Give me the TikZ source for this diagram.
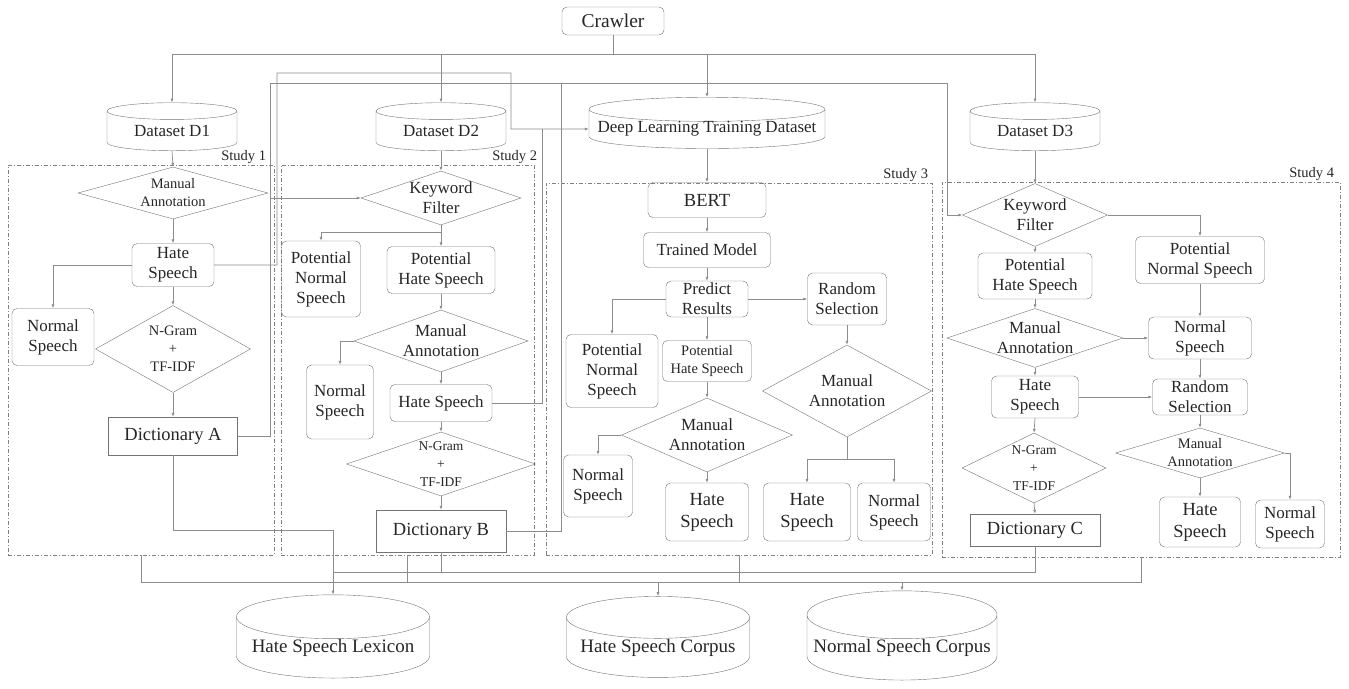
\documentclass[tikz,border=0pt]{standalone}
\usepackage{fontspec}
\setmainfont{Liberation Serif}
\usetikzlibrary{shapes.geometric,arrows.meta}

\tikzset{
  wh/.style 2 args={minimum width=#1, minimum height=#2},
  box/.style={draw=black!55, rectangle, rounded corners=5pt, align=center, inner sep=1pt, text=black!85, font=\fontsize{17}{20}\selectfont},
  dictbox/.style={draw=black!55, rectangle, align=center, inner sep=1pt, text=black!85, font=\fontsize{18.5}{22}\selectfont},
  choice/.style={draw=black!55, diamond, inner sep=0pt},
  choicetext/.style={align=center, inner sep=0pt, text=black!85, font=\fontsize{17}{20}\selectfont},
  store/.style={draw=black!55, cylinder, shape border rotate=90, align=center, inner sep=0pt, text=black!85, font=\fontsize{17}{20}\selectfont},
  study/.style={draw=black!50, dash pattern=on 4pt off 2pt on 1pt off 2pt, rectangle, inner sep=0pt},
  studyname/.style={anchor=south east, inner sep=1pt, text=black!85, font=\fontsize{14.5}{17}\selectfont},
  smalltext/.style={font=\fontsize{14.5}{18}\selectfont},
  tinytext/.style={font=\fontsize{13.5}{18}\selectfont},
  bigtext/.style={font=\fontsize{18.5}{22}\selectfont},
  link/.style={draw=black!45, line width=0.7pt},
  >={Latex[length=4pt,width=3pt]}
}

\begin{document}
\begin{tikzpicture}[x=1pt,y=-1pt]
\useasboundingbox (0,0) rectangle (1349,688);

% sources
\node[box, wh={102}{28}, font=\fontsize{19.5}{22}\selectfont] (crawler) at (613,21) {Crawler};
\node[store, wh={130}{48}, aspect=0.22] (d1) at (172,131) {Dataset D1};
\node[store, wh={130}{48}, aspect=0.22] (d2) at (441,131) {Dataset D2};
\node[store, wh={236}{45}, aspect=0.11] (dl) at (707,129) {Deep Learning Training Dataset};
\node[store, wh={130}{48}, aspect=0.22] (d3) at (1035,131) {Dataset D3};

% study frames
\node[study, wh={266}{390}] (st1) at (141,360) {};
\node[study, wh={253}{390}] (st2) at (407.5,360) {};
\node[study, wh={386}{372}] (st3) at (739,369) {};
\node[study, wh={398}{375}] (st4) at (1141,369.5) {};
\node[studyname] (st1-l) at ([xshift=-7]st1.north east) {Study 1};
\node[studyname] (st2-l) at ([xshift=4]st2.north east) {Study 2};
\node[studyname] (st3-l) at ([xshift=-3]st3.north east) {Study 3};
\node[studyname] (st4-l) at ([xshift=-5]st4.north east) {Study 4};

% study 1
\node[choice, wh={190}{52}] (s1ma) at (173,193) {};
\node[choicetext, smalltext] (s1ma-t) at (s1ma) {Manual\\Annotation};
\node[box, wh={82}{43}] (s1hs) at (173,265) {Hate\\Speech};
\node[box, wh={82}{57}] (s1ns) at (53,337) {Normal\\Speech};
\node[choice, wh={155}{87}] (s1ng) at (173,349) {};
\node[choicetext, smalltext] (s1ng-t) at (s1ng) {N-Gram\\+\\TF-IDF};
\node[dictbox, wh={129}{38}] (dicta) at (173,436) {Dictionary A};

% study 2
\node[choice, wh={160}{54}] (s2kf) at (441,198) {};
\node[choicetext] (s2kf-t) at (s2kf) {Keyword\\Filter};
\node[box, wh={79}{76}] (s2pns) at (321,279) {Potential\\Normal\\Speech};
\node[box, wh={108}{47}] (s2phs) at (441,270) {Potential\\Hate Speech};
\node[choice, wh={174}{62}] (s2ma) at (441,341) {};
\node[choicetext] (s2ma-t) at (s2ma) {Manual\\Annotation};
\node[box, wh={67}{74}] (s2ns) at (340,402) {Normal\\Speech};
\node[box, wh={102}{37}] (s2hs) at (441,403) {Hate Speech};
\node[choice, wh={189}{64}] (s2ng) at (441,464) {};
\node[choicetext, tinytext] (s2ng-t) at (s2ng) {N-Gram\\+\\TF-IDF};
\node[dictbox, wh={130}{42}] (dictb) at (441,531) {Dictionary B};

% study 3
\node[box, bigtext, wh={118}{35}] (bert) at (707,200) {BERT};
\node[box, wh={127}{35}] (tm) at (707,250) {Trained Model};
\node[box, wh={82}{36}] (pr) at (707,299) {Predict\\Results};
\node[box, wh={79}{52}] (s3rs) at (847,299) {Random\\Selection};
\node[box, wh={92}{73}] (s3pns) at (612,371) {Potential\\Normal\\Speech};
\node[box, smalltext, wh={89}{41}] (s3phs) at (707,361) {Potential\\Hate Speech};
\node[choice, wh={169}{92}] (s3mar) at (847,391) {};
\node[choicetext] (s3mar-t) at (s3mar) {Manual\\Annotation};
\node[choice, wh={171}{74}] (s3mam) at (707,435) {};
\node[choicetext] (s3mam-t) at (s3mam) {Manual\\Annotation};
\node[box, wh={69}{62}] (s3ns) at (598,486) {Normal\\Speech};
\node[box, bigtext, wh={83}{58}] (s3hs1) at (707,512) {Hate\\Speech};
\node[box, bigtext, wh={87}{58}] (s3hs2) at (807,512) {Hate\\Speech};
\node[box, wh={73}{58}] (s3ns2) at (894,512) {Normal\\Speech};

% study 4
\node[choice, wh={145}{63}] (s4kf) at (1035,215) {};
\node[choicetext] (s4kf-t) at (s4kf) {Keyword\\Filter};
\node[box, wh={114}{46}] (s4phs) at (1035,276) {Potential\\Hate Speech};
\node[box, wh={129}{47}] (s4pns) at (1200,260) {Potential\\Normal Speech};
\node[choice, wh={176}{59}] (s4ma) at (1035,338) {};
\node[choicetext] (s4ma-t) at (s4ma) {Manual\\Annotation};
\node[box, wh={103}{42}] (s4ns) at (1200,338) {Normal\\Speech};
\node[box, wh={87}{42}] (s4hs) at (1035,397) {Hate\\Speech};
\node[box, wh={95}{36}] (s4rs) at (1200,397) {Random\\Selection};
\node[choice, wh={169}{50}] (s4ma2) at (1200,453) {};
\node[choicetext, smalltext] (s4ma2-t) at (s4ma2) {Manual\\Annotation};
\node[choice, wh={144}{70}] (s4ng) at (1034,468) {};
\node[choicetext, tinytext] (s4ng-t) at (s4ng) {N-Gram\\+\\TF-IDF};
\node[dictbox, wh={130}{32}] (dictc) at (1035,530) {Dictionary C};
\node[box, bigtext, wh={81}{50}] (s4hs2) at (1200,522) {Hate\\Speech};
\node[box, wh={69}{48}] (s4ns2) at (1290,524) {Normal\\Speech};

% results
\node[store, wh={193}{81}, aspect=0.27, font=\fontsize{19}{22}\selectfont] (lex) at (333,647.5) {Hate Speech Lexicon};
\node[store, wh={183}{81}, aspect=0.27, font=\fontsize{19}{22}\selectfont] (hcorp) at (658,647.5) {Hate Speech Corpus};
\node[store, wh={190}{81}, aspect=0.27, font=\fontsize{19}{22}\selectfont] (ncorp) at (902,647.5) {Normal Speech Corpus};

% crawler to datasets
\coordinate (ct) at (0,54);
\foreach \n in {d1,d2,dl,d3}
  \draw[link,->] (crawler.south) |- (ct -| \n.north) -- (\n.north);

% feedback lines
\draw[link,->] (s1hs.east) -| (277,73) -| (511,129) -- (dl.west);
\draw[link] (s2hs.east) -| (542,129);
\draw[link,->] (dicta.east) -| (270,83) -| (947,215) -- (s4kf.west);
\coordinate (ja) at (270,0);
\draw[link,->] (ja |- s2kf.west) -- (s2kf.west);
\draw[link] (dictb.east) -| (561,83);

% study 1
\draw[link,->] (d1.south) -- (s1ma.north);
\draw[link,->] (s1ma.south) -- (s1hs.north);
\draw[link,->] (s1hs.west) -| (s1ns.north);
\draw[link,->] (s1hs.south) -- (s1ng.north);
\draw[link,->] (s1ng.south) -- (dicta.north);

% study 2
\draw[link,->] (d2.south) -- (s2kf.north);
\draw[link,->] (s2kf.south) -- (s2phs.north);
\draw[link,->] (s2kf.south) -- ++(0,7) -| (s2pns.north);
\draw[link,->] (s2phs.south) -- (s2ma.north);
\draw[link,->] (s2ma.west) -| (s2ns.north);
\draw[link,->] (s2ma.south) -- (s2hs.north);
\draw[link,->] (s2hs.south) -- (s2ng.north);
\draw[link,->] (s2ng.south) -- (dictb.north);

% study 3
\draw[link,->] (dl.south) -- (bert.north);
\draw[link,->] (bert.south) -- (tm.north);
\draw[link,->] (tm.south) -- (pr.north);
\draw[link,->] (pr.west) -| (s3pns.north);
\draw[link,->] (pr.south) -- (s3phs.north);
\draw[link,->] (pr.east) -- (s3rs.west);
\draw[link,->] (s3rs.south) -- (s3mar.north);
\draw[link,->] (s3phs.south) -- (s3mam.north);
\draw[link,->] (s3mam.west) -| (s3ns.north);
\draw[link,->] (s3mam.south) -- (s3hs1.north);
\draw[link,->] (s3mar.south) -- ++(0,22) -| (s3hs2.north);
\draw[link,->] (s3mar.south) -- ++(0,22) -| (s3ns2.north);

% study 4
\draw[link,->] (d3.south) -- (s4kf.north);
\draw[link,->] (s4kf.east) -| (s4pns.north);
\draw[link,->] (s4kf.south) -- (s4phs.north);
\draw[link,->] (s4phs.south) -- (s4ma.north);
\draw[link,->] (s4ma.east) -- (s4ns.west);
\draw[link,->] (s4pns.south) -- (s4ns.north);
\draw[link,->] (s4ma.south) -- (s4hs.north);
\draw[link,->] (s4ns.south) -- (s4rs.north);
\draw[link,->] (s4hs.east) -- (s4rs.west);
\draw[link,->] (s4hs.south) -- (s4ng.north);
\draw[link,->] (s4ng.south) -- (dictc.north);
\draw[link,->] (s4rs.south) -- (s4ma2.north);
\draw[link,->] (s4ma2.south) -- (s4hs2.north);
\draw[link,->] (s4ma2.east) -| (s4ns2.north);

% collect results
\coordinate (la) at (0,530);
\coordinate (lb) at (0,572);
\coordinate (lc) at (0,582);
\draw[link,->] (dicta.south) |- (la -| lex.north) -- (lex.north);
\draw[link] (dictb.south) |- (lb -| lex.north);
\draw[link] (dictc.south) |- (lb -| lex.north);
\draw[link] (st1.south) |- (lc -| st4.south) -- (st4.south);
\draw[link] (st2.south) -- (lc -| st2.south);
\draw[link] (st3.south) -- (lc -| st3.south);
\draw[link,->] (lc -| hcorp.north) -- (hcorp.north);
\draw[link,->] (lc -| ncorp.north) -- (ncorp.north);

\end{tikzpicture}
\end{document}
